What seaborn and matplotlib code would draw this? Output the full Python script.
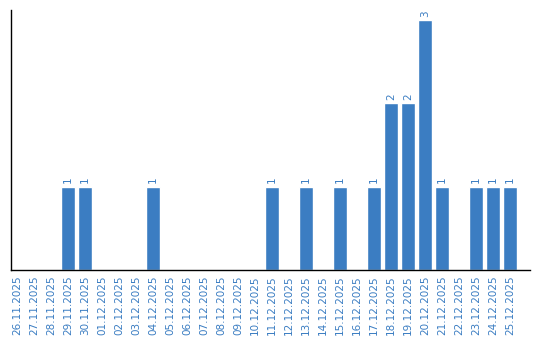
import matplotlib
matplotlib.use("Agg")
import matplotlib.pyplot as plt
import seaborn as sns
import pandas as pd

dates = ["26.11.2025", "27.11.2025", "28.11.2025", "29.11.2025", "30.11.2025",
         "01.12.2025", "02.12.2025", "03.12.2025", "04.12.2025", "05.12.2025",
         "06.12.2025", "07.12.2025", "08.12.2025", "09.12.2025", "10.12.2025",
         "11.12.2025", "12.12.2025", "13.12.2025", "14.12.2025", "15.12.2025",
         "16.12.2025", "17.12.2025", "18.12.2025", "19.12.2025", "20.12.2025",
         "21.12.2025", "22.12.2025", "23.12.2025", "24.12.2025", "25.12.2025"]
counts = [0, 0, 0, 1, 1,
          0, 0, 0, 1, 0,
          0, 0, 0, 0, 0,
          1, 0, 1, 0, 1,
          0, 1, 2, 2, 3,
          1, 0, 1, 1, 1]

df = pd.DataFrame({"date": dates, "count": counts})
color = "#3b7dc2"

sns.set_style("white")
fig = plt.figure(figsize=(5.4, 3.4), dpi=100)
ax = fig.add_axes([11/540, 70/340, 519/540, 260/340])
sns.barplot(data=df, x="date", y="count", color=color, width=0.82,
            saturation=1, ax=ax, order=dates)

for i, v in enumerate(counts):
    if v > 0:
        ax.text(i, v + 0.04, str(v), rotation=90, ha="center", va="bottom",
                fontsize=7.5, color=color)

ax.set_xlim(-0.35, 30.18)
ax.set_ylim(0, 3.12)
ax.set_xlabel("")
ax.set_ylabel("")
ax.set_yticks([])
ax.tick_params(axis="x", length=0, pad=4)
ax.set_xticks(range(len(dates)))
ax.set_xticklabels(dates, rotation=90, fontsize=7.5, color=color)
for s in ["top", "right"]:
    ax.spines[s].set_visible(False)
for s in ["left", "bottom"]:
    ax.spines[s].set_color("black")
    ax.spines[s].set_linewidth(1)

fig.savefig("out.png", dpi=100)
